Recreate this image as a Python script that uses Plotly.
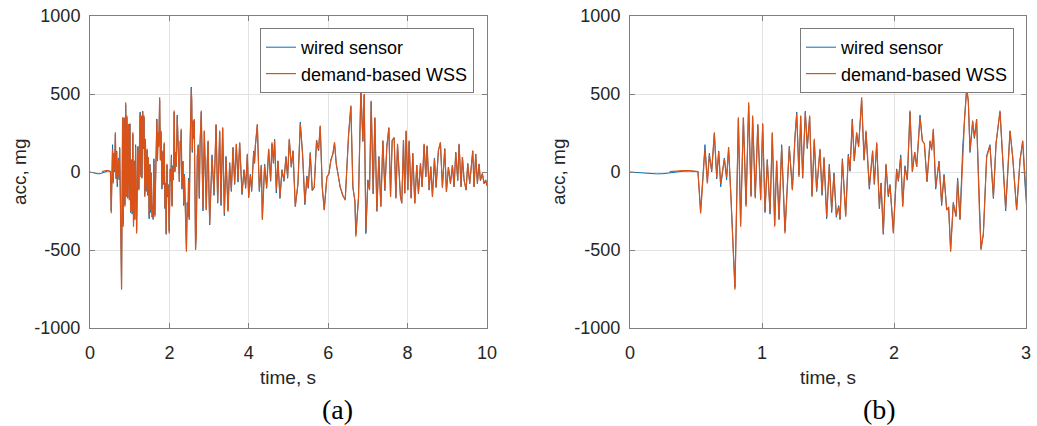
import plotly.graph_objects as go

# ---------------- data ----------------
time_s = [
    0.00, 0.05, 0.10, 0.15, 0.20, 0.25, 0.30, 0.35, 0.40, 0.45,
    0.50, 0.515, 0.535, 0.568, 0.586, 0.601, 0.619, 0.639, 0.657, 0.672,
    0.687, 0.715, 0.732, 0.747, 0.765, 0.795, 0.821, 0.838, 0.859, 0.879,
    0.899, 0.917, 0.929, 0.949, 0.968, 0.990, 1.005, 1.023, 1.040, 1.061,
    1.078, 1.096, 1.111, 1.129, 1.149, 1.174, 1.207, 1.230, 1.250, 1.263,
    1.280, 1.293, 1.308, 1.328, 1.343, 1.361, 1.379, 1.396, 1.414, 1.439,
    1.455, 1.470, 1.490, 1.510, 1.528, 1.545, 1.563, 1.581, 1.591, 1.609,
    1.634, 1.654, 1.667, 1.684, 1.699, 1.717, 1.732, 1.755, 1.773, 1.788,
    1.813, 1.838, 1.851, 1.869, 1.889, 1.902, 1.919, 1.939, 1.957, 1.970,
    1.995, 2.020, 2.033, 2.051, 2.066, 2.083, 2.101, 2.121, 2.139, 2.157,
    2.172, 2.197, 2.215, 2.230, 2.250, 2.273, 2.285, 2.298, 2.316, 2.341,
    2.361, 2.379, 2.399, 2.414, 2.429, 2.449, 2.470, 2.482, 2.500, 2.520,
    2.535, 2.551, 2.563, 2.576, 2.596, 2.609, 2.626, 2.646, 2.659, 2.677,
    2.702, 2.727, 2.753, 2.773, 2.803, 2.823, 2.846, 2.879, 2.899, 2.929,
    2.955, 2.975, 2.992, 3.015, 3.074, 3.124, 3.175, 3.216, 3.267, 3.300,
    3.342, 3.384, 3.426, 3.477, 3.518, 3.560, 3.602, 3.644, 3.686, 3.728,
    3.770, 3.829, 3.879, 3.921, 3.963, 3.997, 4.039, 4.072, 4.123, 4.145,
    4.165, 4.215, 4.265, 4.316, 4.341, 4.399, 4.450, 4.500, 4.550, 4.584,
    4.620, 4.651, 4.693, 4.735, 4.785, 4.836, 4.886, 4.936, 4.978, 5.020,
    5.071, 5.113, 5.171, 5.238, 5.297, 5.355, 5.413, 5.464, 5.497, 5.548,
    5.598, 5.648, 5.707, 5.757, 5.799, 5.850, 5.900, 5.967, 6.018, 6.068,
    6.118, 6.160, 6.202, 6.244, 6.303, 6.370, 6.429, 6.513, 6.571, 6.622,
    6.672, 6.697, 6.764, 6.823, 6.873, 6.907, 6.949, 6.999, 7.041, 7.083,
    7.133, 7.175, 7.226, 7.276, 7.326, 7.377, 7.427, 7.477, 7.528, 7.570,
    7.612, 7.662, 7.704, 7.746, 7.780, 7.820, 7.854, 7.896, 7.929, 7.963,
    8.005, 8.038, 8.089, 8.131, 8.181, 8.231, 8.273, 8.324, 8.366, 8.416,
    8.458, 8.491, 8.542, 8.584, 8.626, 8.676, 8.718, 8.777, 8.827, 8.877,
    8.936, 8.978, 9.028, 9.079, 9.129, 9.171, 9.213, 9.263, 9.297, 9.347,
    9.381, 9.423, 9.473, 9.515, 9.565, 9.599, 9.641, 9.674, 9.716, 9.758,
    9.800, 9.834, 9.884, 9.926, 9.968, 10.0,
]

wired_mg = [
    0, -3, -6, -10, -12, -11, -6, 1, 5, 6,
    5, 2, -250, 175, -60, 120, 0, 245, -45, 135,
    -95, 90, -50, 150, -160, -740, 340, -330, 345, -210,
    430, -150, 350, -160, 300, -170, 310, -260, 80, -270,
    245, -340, 70, -300, 175, -380, 165, -110, 230, 385,
    -20, 355, -40, 390, 150, 350, -150, 200, -125, 140,
    -150, 85, -300, 50, -260, -5, -290, -215, -300, 85,
    -275, 115, 5, 340, 70, 245, 170, 460, 80, 255,
    -110, 130, -80, 180, -235, -70, -400, 45, -160, -80,
    -380, 20, -60, 110, -215, 40, -50, 385, 5, 125,
    35, 365, 195, 185, -60, 195, 145, 265, -110, 70,
    -215, -15, -240, -230, -495, -195, -280, -40, -300, 150,
    345, 545, 450, 125, 320, 215, 330, -210, -490, -400,
    105, 175, -170, 185, 385, 90, -250, 260, 100, -240,
    80, 195, -75, -340, 110, -150, 300, -200, 255, -215,
    280, -280, 100, -245, 60, -125, 155, -80, 175, -65,
    185, -145, 15, -105, 110, -165, -15, -125, 135, 55,
    165, 300, -125, 45, -295, 50, -105, 145, -60, 180,
    55, 210, -135, 70, -170, 15, -60, 100, -40, 205,
    30, 135, -220, -80, 320, 110, -210, -25, -105, 125,
    -120, -100, 205, 135, 290, -100, -240, -35, -10, 80,
    115, 185, 55, -10, -100, -155, -175, 240, 420, -100,
    -185, -400, -165, 540, 195, 495, -395, -50, -115, 450,
    -140, 345, -250, 100, -220, 200, -120, 165, 280, -155,
    205, 215, -165, 175, 50, -155, -195, 205, -135, 260,
    -115, 195, -165, 120, -200, 45, -140, 55, -95, 175,
    -30, 165, -115, 35, -155, 90, -100, 140, 185, -100,
    150, -125, 30, -75, 45, -95, 125, -55, 175, -95,
    95, -50, -115, 55, -75, 30, 135, -95, 115, -75,
    50, -55, -10, -75, -50, -85,
]

demand_mg = [
    None, None, None, None, None, None, 2, 6, 9, 9,
    6, 3, -265, 149, -74, 106, 10, 255, -32, 128,
    -74, 85, -32, 160, -170, -755, 351, -351, 351, -223,
    447, -160, 362, -170, 308, -181, 308, -255, 74, -255,
    255, -351, 74, -308, 160, -394, 160, -117, 223, 372,
    -32, 362, -32, 383, 160, 362, -160, 213, -117, 149,
    -138, 96, -287, 43, -245, -11, -277, -223, -308, 74,
    -287, 106, 11, 330, 74, 255, 160, 479, 74, 266,
    -96, 138, -74, 191, -223, -74, -394, 53, -150, -85,
    -394, 11, -53, 96, -223, 32, -53, 394, 0, 128,
    32, 351, 202, 181, -64, 202, 138, 277, -96, 64,
    -202, -21, -245, -223, -511, -202, -287, -53, -308, 138,
    351, 532, 457, 138, 330, 223, 340, -223, -500, -394,
    96, 170, -160, 181, 394, 96, -234, 266, 96, -245,
    74, 202, -53, -330, 96, -138, 308, -191, 266, -202,
    287, -266, 96, -255, 53, -117, 160, -74, 181, -53,
    191, -138, 11, -96, 117, -160, -21, -117, 128, 60,
    170, 308, -117, 43, -308, 43, -96, 149, -53, 191,
    60, 202, -117, 74, -160, 11, -53, 96, -32, 213,
    32, 138, -223, -74, 308, 117, -202, -32, -96, 117,
    -117, -96, 202, 138, 298, -96, -245, -32, -11, 74,
    117, 191, 53, -11, -96, -149, -181, 234, 426, -96,
    -181, -415, -160, 521, 202, 500, -383, -53, -117, 457,
    -138, 351, -255, 96, -223, 202, -117, 160, 287, -160,
    202, 223, -170, 181, 53, -160, -202, 202, -138, 266,
    -117, 202, -170, 117, -202, 43, -138, 53, -96, 181,
    -32, 170, -117, 32, -160, 85, -96, 138, 191, -96,
    149, -128, 32, -74, 43, -96, 128, -53, 181, -96,
    96, -53, -117, 53, -74, 32, 138, -96, 117, -74,
    53, -53, -11, -74, -53, -90,
]

assert len(time_s) == len(wired_mg) == len(demand_mg)

series_names = ["wired sensor", "demand-based WSS"]
series_colors = ["#0072BD", "#D95319"]
series_widths = [1.0, 1.2]

x_ticks_a = [0, 2, 4, 6, 8, 10]
x_ticks_b = [0, 1, 2, 3]
y_ticks = [-1000, -500, 0, 500, 1000]
y_tick_text = ["-1000", "-500", "0", "500", "1000"]
panel_labels = ["(a)", "(b)"]
x_title = "time, s"
y_title = "acc, mg"

# ---------------- figure ----------------
W, H = 1037, 426
fig = go.Figure()

for xa, ya, leg in [("x", "y", "legend"), ("x2", "y2", "legend2")]:
    for name, vals, col, lw in zip(series_names, [wired_mg, demand_mg], series_colors, series_widths):
        fig.add_trace(go.Scatter(
            x=time_s, y=vals, mode="lines", name=name,
            line=dict(color=col, width=lw),
            xaxis=xa, yaxis=ya, legend=leg, connectgaps=False,
            hoverinfo="skip",
        ))

font_main = "Liberation Sans, Arial, sans-serif"
tick_font = dict(family=font_main, size=18, color="#262626")
axis_common = dict(
    showline=True, linecolor="#808080", linewidth=1, mirror="ticks",
    ticks="inside", ticklen=5, tickcolor="#808080",
    showgrid=True, gridcolor="#e3e3e3", gridwidth=1,
    zeroline=False, tickfont=tick_font, automargin=False,
)

xa_dom = [90 / W, 487 / W]
xb_dom = [630 / W, 1026 / W]
y_dom = [1 - 328 / H, 1 - 16 / H]

legend_common = dict(
    xanchor="right", yanchor="top",
    bgcolor="white", bordercolor="#7a7a7a", borderwidth=1,
    font=dict(family=font_main, size=18, color="black"),
    itemwidth=30, tracegroupgap=0,
)

fig.update_layout(
    width=W, height=H,
    margin=dict(l=0, r=0, t=0, b=0, autoexpand=False),
    paper_bgcolor="white", plot_bgcolor="white",
    xaxis=dict(domain=xa_dom, range=[0, 10], tickvals=x_ticks_a,
               anchor="y", ticklabelstandoff=8, **axis_common),
    yaxis=dict(domain=y_dom, range=[-1000, 1000], tickvals=y_ticks,
               ticktext=y_tick_text, anchor="x", ticklabelstandoff=5, **axis_common),
    xaxis2=dict(domain=xb_dom, range=[0, 3], tickvals=x_ticks_b,
                anchor="y2", ticklabelstandoff=8, **axis_common),
    yaxis2=dict(domain=y_dom, range=[-1000, 1000], tickvals=y_ticks,
                ticktext=y_tick_text, anchor="x2", ticklabelstandoff=5, **axis_common),
    legend=dict(x=474 / W, y=1 - 28 / H, **legend_common),
    legend2=dict(x=1014 / W, y=1 - 28 / H, **legend_common),
    showlegend=True,
)

title_font = dict(family=font_main, size=19, color="#262626")
annotations = []
for xc_ax, xc_title in [(19, 288), (558, 828)]:
    annotations.append(dict(text=y_title, x=xc_ax / W, y=1 - 172 / H, xref="paper", yref="paper",
                            showarrow=False, textangle=-90, font=title_font,
                            xanchor="center", yanchor="middle"))
    annotations.append(dict(text=x_title, x=xc_title / W, y=1 - 377 / H, xref="paper", yref="paper",
                            showarrow=False, font=title_font, xanchor="center", yanchor="middle"))
for lbl, xc in zip(panel_labels, [337, 879]):
    annotations.append(dict(text=lbl, x=xc / W, y=1 - 409 / H, xref="paper", yref="paper",
                            showarrow=False,
                            font=dict(family="Liberation Serif, Times New Roman, serif", size=28, color="black"),
                            xanchor="center", yanchor="middle"))
fig.update_layout(annotations=annotations)

fig.write_html("out.html")
